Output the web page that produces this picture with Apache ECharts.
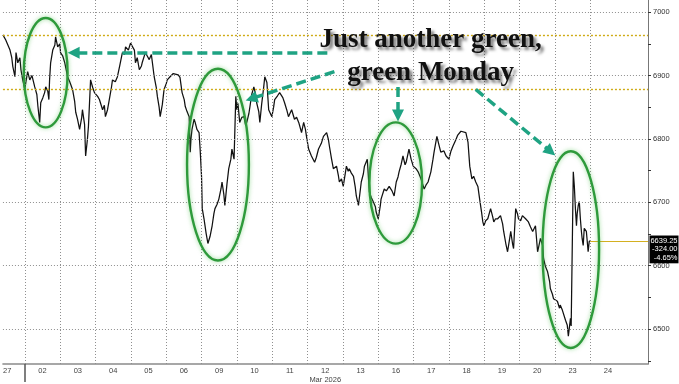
<!DOCTYPE html>
<html><head><meta charset="utf-8">
<script src="https://cdn.jsdelivr.net/npm/echarts@6/dist/echarts.min.js"></script>
<style>html,body{margin:0;padding:0;background:#fff}#chart{width:679px;height:384px}</style>
</head><body><div id="chart"></div>
<script>
// ---- data ----
const dayLabels = ['27','02','03','04','05','06','09','10','11','12','13','16','17','18','19','20','23','24'];
const monthLabel = 'Mar 2026';
const monthLabelDay = '12';
const monthStartIndex = 1;
const yTickLabels = [6500, 6600, 6700, 6800, 6900, 7000];
const yMinorTicks = [6450, 6550, 6650, 6750, 6850, 6950];
const prevClose = 6963.25;
const refLevel = 6878;

// session time in trading days (day index + fraction of the session)
const times = [
  0.38,0.46,0.52,0.58,0.63,0.66,0.72,0.75,0.80,0.86,0.89,0.94,
  1.00,1.03,1.08,1.14,1.20,1.28,1.34,1.37,1.42,1.45,1.51,1.56,1.59,1.65,1.68,1.70,1.73,1.79,1.85,1.87,1.93,1.99,
  2.01,2.07,2.13,2.21,2.27,2.35,2.41,2.44,2.49,2.55,2.61,2.63,2.69,2.72,2.77,2.80,2.86,2.92,2.97,
  3.06,3.11,3.20,3.25,3.28,3.34,3.39,3.45,3.48,3.56,3.62,3.68,3.76,3.82,3.85,3.93,3.99,
  4.04,4.10,4.13,4.18,4.24,4.30,4.32,4.41,4.46,4.52,4.58,4.61,4.66,4.72,4.75,4.80,4.83,4.89,4.94,
  5.00,5.03,5.08,5.11,5.20,5.25,5.34,5.39,5.45,5.51,5.54,5.59,5.65,5.68,5.70,5.73,5.79,5.82,5.87,5.93,5.96,
  6.00,6.02,6.07,6.13,6.18,6.24,6.30,6.35,6.38,6.44,6.49,6.55,6.58,6.63,6.66,6.72,6.77,6.83,6.86,6.92,6.97,
  7.00,7.03,7.08,7.14,7.20,7.25,7.28,7.34,7.37,7.42,7.48,7.54,7.56,7.62,7.65,7.70,7.76,7.79,7.85,7.90,7.99,
  8.04,8.07,8.15,8.21,8.30,8.35,8.41,8.46,8.55,8.63,8.69,8.75,8.83,8.89,8.94,8.97,
  9.03,9.08,9.11,9.20,9.25,9.31,9.39,9.45,9.54,9.59,9.62,9.68,9.73,9.82,9.87,9.90,9.96,
  10.01,10.10,10.15,10.18,10.24,10.30,10.35,10.38,10.44,10.52,10.58,10.61,10.69,10.75,10.80,10.86,10.92,10.94,
  11.00,11.06,11.08,11.17,11.23,11.31,11.39,11.45,11.51,11.56,11.59,11.65,11.70,11.76,11.79,11.87,11.93,11.99,
  12.07,12.13,12.21,12.30,12.35,12.41,12.49,12.55,12.58,12.66,12.72,12.77,12.86,12.92,
  13.00,13.06,13.11,13.20,13.25,13.34,13.39,13.48,13.54,13.59,13.65,13.70,13.76,13.82,13.87,13.93,13.96,13.99,
  14.04,14.10,14.18,14.24,14.27,14.32,14.38,14.46,14.52,14.55,14.61,14.66,14.72,14.75,14.80,14.83,14.89,14.94,14.97,
  15.03,15.08,15.17,15.25,15.31,15.37,15.45,15.51,15.56,15.59,15.65,15.68,15.73,15.79,15.85,15.87,15.93,15.96,
  16.01,16.07,16.13,16.15,16.21,16.24,16.30,16.35,16.38,16.44,16.46,16.49,16.52,16.55,16.58,16.61,16.63,16.66,16.69,16.72,16.75,16.77,16.80,16.83,16.89,16.92,16.94,16.97,17.00
];
const prices = [
  6964,6956,6948,6940,6928,6914,6898,6936,6920,6928,6909,6893,
  6878,6890,6906,6893,6900,6882,6870,6851,6826,6857,6865,6873,6882,6875,6862,6893,6920,6940,6948,6961,6945,6950,
  6936,6931,6920,6898,6890,6878,6859,6842,6831,6815,6834,6846,6823,6773,6799,6820,6893,6881,6873,
  6867,6862,6846,6853,6835,6846,6862,6881,6893,6890,6898,6914,6936,6933,6945,6940,6951,
  6948,6940,6920,6928,6909,6915,6920,6936,6931,6925,6933,6920,6898,6881,6867,6850,6835,6854,6878,
  6887,6893,6890,6898,6903,6904,6901,6897,6873,6862,6851,6843,6835,6779,6799,6815,6831,6826,6815,6810,6784,
  6741,6690,6674,6651,6635,6646,6663,6682,6690,6697,6705,6721,6732,6713,6695,6729,6753,6768,6784,6768,6867,
  6846,6856,6826,6834,6835,6821,6826,6840,6851,6870,6882,6868,6857,6843,6826,6854,6882,6898,6889,6846,6835,
  6850,6862,6868,6873,6865,6857,6846,6835,6846,6831,6834,6826,6810,6826,6815,6804,
  6784,6781,6773,6763,6771,6784,6793,6804,6810,6799,6788,6768,6753,6757,6743,6732,6737,
  6725,6757,6749,6753,6746,6741,6724,6710,6695,6732,6745,6757,6768,6716,6708,6701,6693,6685,
  6674,6695,6705,6721,6718,6725,6718,6710,6732,6740,6748,6760,6773,6759,6763,6784,6768,6757,
  6753,6748,6737,6721,6727,6732,6748,6768,6779,6804,6790,6779,6781,6773,
  6768,6781,6788,6799,6806,6812,6813,6810,6795,6757,6737,6741,6732,6725,6705,6682,6669,6663,
  6671,6674,6690,6677,6669,6674,6674,6679,6666,6654,6635,6622,6643,6654,6635,6627,6690,6682,6674,
  6671,6679,6674,6669,6661,6654,6663,6622,6635,6643,6632,6611,6599,6591,6575,6564,6555,6548,
  6545,6544,6533,6538,6530,6528,6514,6506,6489,6517,6505,6502,6748,6725,6690,6663,6682,6695,6701,6674,6654,6643,6632,6659,6654,6635,6622,6638,6639.25
];

// ---- annotations (in data coordinates: [day, price]) ----
const noteLines = ['Just another green,', 'green Monday'];
const noteAt = [12.48, 6930];
const ellipseBoxes = [
  [0.97, 6990.6, 2.21, 6818.2],
  [5.59, 6910.7, 7.34, 6608.2],
  [10.75, 6826, 12.24, 6634.8],
  [15.65, 6780.6, 17.25, 6470.2]
];
const arrowLines = [
  [[9.56, 6936], [2.38, 6936]],
  [[9.76, 6906], [7.41, 6863.5]],
  [[11.56, 6882], [11.56, 6837]],
  [[13.76, 6878], [15.88, 6780]]
];

// ---- chart ----
const X_MIN = 0.3803, X_MAX = 18.634, Y_MIN = 6445, Y_MAX = 7019;
const FONT = '"Liberation Sans", Arial, sans-serif';
const last = prices[prices.length - 1];
const lastT = times[times.length - 1];
const chg = last - prevClose;
const pct = chg / prevClose * 100;
const series = times.map((t, i) => [t, prices[i]]);

const chart = echarts.init(document.getElementById('chart'), null, { renderer: 'canvas' });
chart.setOption({
  animation: false,
  backgroundColor: '#ffffff',
  textStyle: { fontFamily: FONT },
  grid: { left: 0, right: 31, top: 0, bottom: 18, containLabel: false },
  xAxis: [{
    type: 'value', min: X_MIN, max: X_MAX, position: 'bottom',
    axisLine: { show: true, lineStyle: { color: '#8a8a8a', width: 1.5 } },
    axisTick: { show: false },
    splitLine: { show: false },
    axisLabel: {
      customValues: dayLabels.map((_, i) => i + 0.5),
      formatter: v => { const s = dayLabels[Math.floor(v)]; return s === monthLabelDay ? s + '\n' + monthLabel : s; },
      color: '#444', fontSize: 7.5, lineHeight: 9, margin: 2, fontFamily: FONT
    }
  }, {
    type: 'value', min: X_MIN, max: X_MAX, position: 'bottom',
    axisLine: { show: false }, splitLine: { show: false },
    axisLabel: { show: false },
    axisTick: { show: true, customValues: [monthStartIndex], length: 18, lineStyle: { color: '#555', width: 1.5 } }
  }],
  yAxis: {
    type: 'value', min: Y_MIN, max: Y_MAX, position: 'right',
    axisLine: { show: true, lineStyle: { color: '#777', width: 1 } },
    axisTick: { show: true, customValues: yMinorTicks.concat(yTickLabels).sort((a, b) => a - b), length: 3, lineStyle: { color: '#333' } },
    splitLine: { show: false },
    axisLabel: { customValues: yTickLabels, formatter: v => String(v), color: '#333', fontSize: 7.5, margin: 5, fontFamily: FONT }
  },
  series: [{
    name: 'grid', type: 'line', z: 1, silent: true, symbol: 'none',
    data: series, lineStyle: { width: 0, opacity: 0 },
    markLine: {
      silent: true, symbol: 'none', label: { show: false }, animation: false,
      emphasis: { disabled: true },
      lineStyle: { type: [1, 2], color: '#8f8f8f', width: 1, opacity: 1 },
      data: [
        ...yTickLabels.map(v => ({ yAxis: v })),
        ...dayLabels.slice(1).map((_, i) => ({ xAxis: i + 1 }))
      ]
    }
  }, {
    name: 'levels', type: 'line', z: 2, silent: true, symbol: 'none',
    data: [series[0]], lineStyle: { width: 0, opacity: 0 },
    markLine: {
      silent: true, symbol: ['none', 'none'], label: { show: false }, animation: false,
      emphasis: { disabled: true },
      lineStyle: { type: [2, 2], color: '#cfab14', width: 1.4, opacity: 1 },
      data: [
        [{ coord: [X_MIN, prevClose] }, { coord: [X_MAX, prevClose] }],
        [{ coord: [X_MIN, refLevel] }, { coord: [X_MAX, refLevel] }]
      ]
    }
  }, {
    name: 'lastLevel', type: 'line', z: 2, silent: true, symbol: 'none',
    data: [series[0]], lineStyle: { width: 0, opacity: 0 },
    markLine: {
      silent: true, symbol: ['none', 'none'], label: { show: false }, animation: false,
      emphasis: { disabled: true },
      lineStyle: { type: 'solid', color: '#d4b020', width: 1.2, opacity: 1 },
      data: [[{ coord: [lastT, last] }, { coord: [X_MAX, last] }]]
    }
  }, {
    name: 'ES', type: 'line', z: 3, data: series, showSymbol: false, symbol: 'none',
    lineStyle: { color: '#111', width: 1.25 }, silent: true,
    markPoint: {
      silent: true, symbol: 'rect', symbolSize: 1, itemStyle: { color: 'rgba(0,0,0,0)' },
      data: [{ coord: [X_MAX, last] }],
      label: {
        show: true, position: 'right', distance: 1, offset: [0, 8.6],
        backgroundColor: '#000', padding: [1, 1, 1, 1],
        formatter: () => '{a|' + last.toFixed(2) + '}\n{a|' + chg.toFixed(2) + '}\n{a|' + pct.toFixed(2) + '%}',
        rich: { a: { width: 27, align: 'right', color: '#fff', fontSize: 7.5, lineHeight: 8.6, fontFamily: FONT } }
      }
    }
  }, {
    name: 'arrows', type: 'line', z: 6, silent: true, symbol: 'none',
    data: [series[0]], lineStyle: { width: 0, opacity: 0 },
    markLine: {
      silent: true, symbol: ['none', 'triangle'], symbolSize: 12, label: { show: false },
      emphasis: { disabled: true },
      lineStyle: { type: [10, 5], color: '#1fa383', width: 3.5 },
      data: arrowLines.map(a => [{ coord: a[0] }, { coord: a[1] }])
    }
  }]
});

const toPx = p => chart.convertToPixel({ gridIndex: 0 }, p);
const graphics = ellipseBoxes.map(b => {
  const p1 = toPx([b[0], b[1]]), p2 = toPx([b[2], b[3]]);
  return {
    type: 'ellipse', silent: true, z: 100,
    shape: { cx: (p1[0] + p2[0]) / 2, cy: (p1[1] + p2[1]) / 2, rx: Math.abs(p2[0] - p1[0]) / 2, ry: Math.abs(p2[1] - p1[1]) / 2 },
    style: { fill: 'none', stroke: '#2e9a3b', lineWidth: 2.4, shadowBlur: 4, shadowColor: 'rgba(70,190,70,0.55)' }
  };
});
const tp = toPx(noteAt);
graphics.push({
  type: 'text', silent: true, z: 110, x: tp[0], y: tp[1],
  style: {
    text: noteLines.join('\n'), font: 'bold 27px "Liberation Serif", "Times New Roman", serif',
    fill: '#111', align: 'center', verticalAlign: 'middle', lineHeight: 33,
    textShadowColor: 'rgba(0,0,0,0.5)', textShadowBlur: 3, textShadowOffsetX: 3, textShadowOffsetY: 3
  }
});
chart.setOption({ graphic: graphics });
</script>
</body></html>
